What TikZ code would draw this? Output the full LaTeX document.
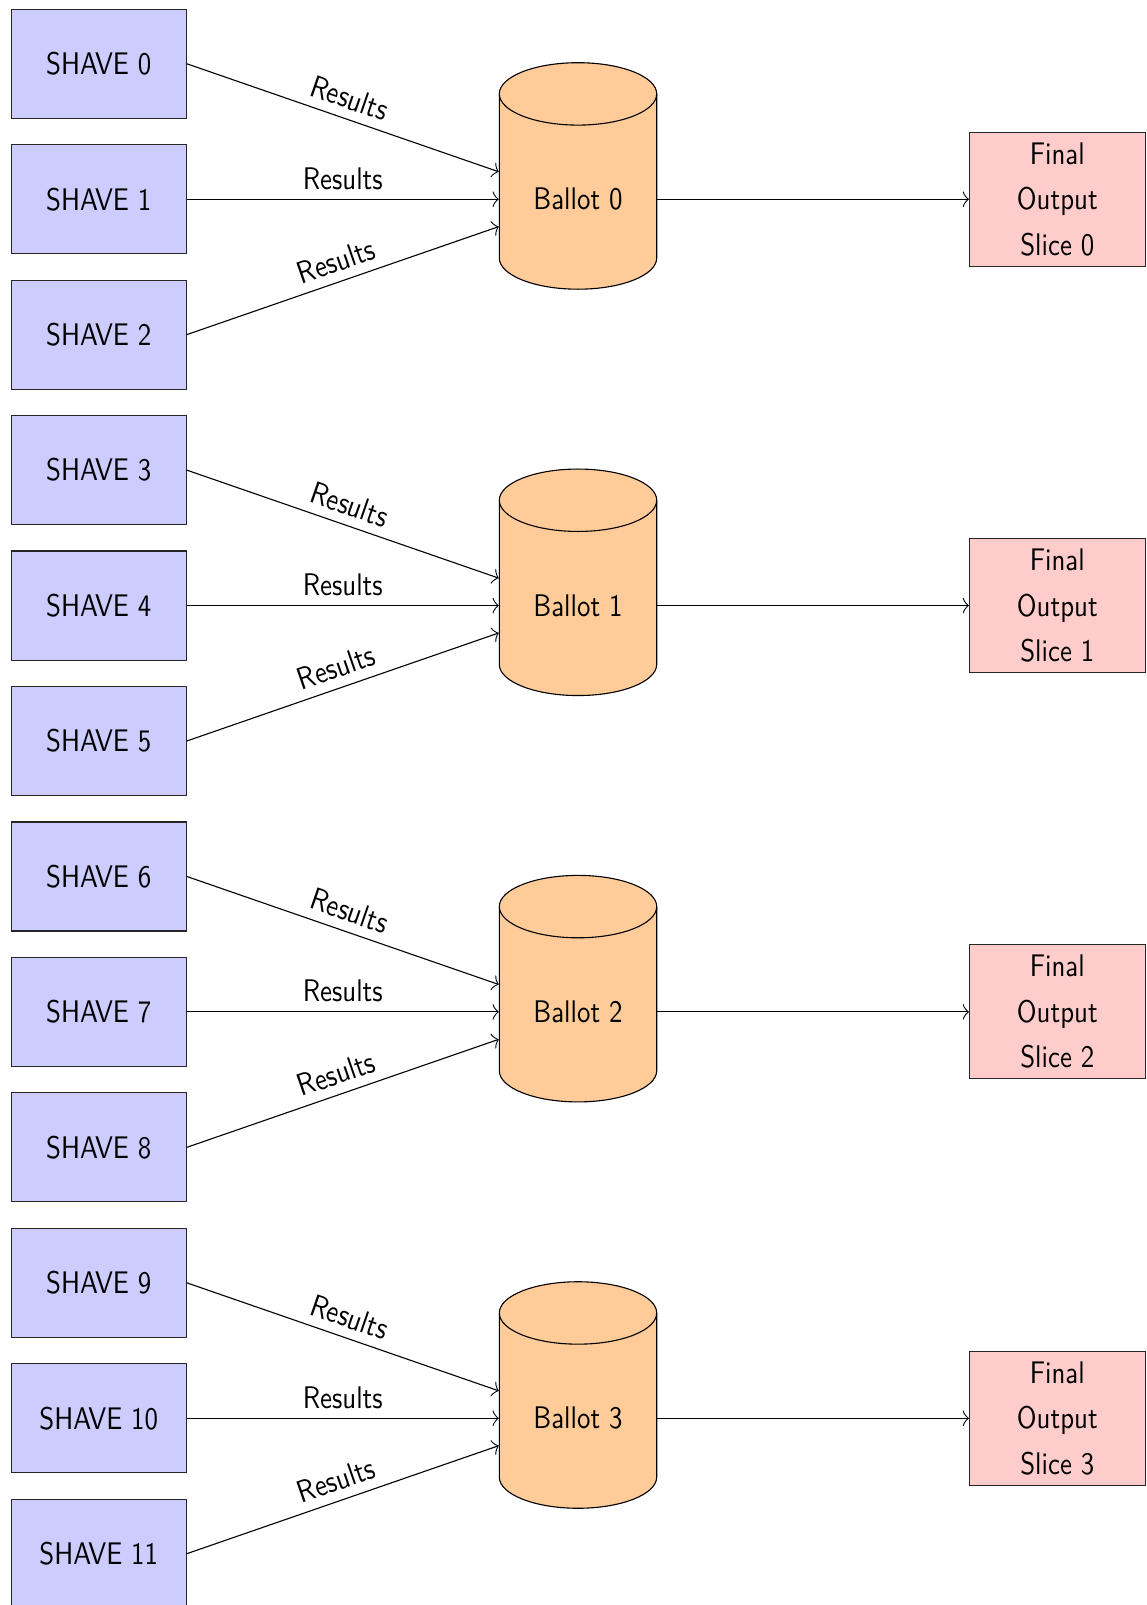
\documentclass[tikz,border=0pt]{standalone}
\usepackage{fontspec}
\setsansfont{lmsans10-regular.otf}[FakeStretch=0.86]
\usetikzlibrary{backgrounds,arrows.meta}
\newdimen\pxu \pxu=0.36pt
\begin{document}
\begin{tikzpicture}[x=0.36pt,y=-0.36pt,
  txt/.style={font=\sffamily\fontsize{11.25}{16.4}\selectfont},
  shave/.style={txt, draw=black!85, fill=blue!20, minimum width=174.9\pxu, minimum height=109\pxu, inner sep=0pt},
  ballot/.style={txt, draw=none, minimum width=157.4\pxu, minimum height=120\pxu, inner sep=0pt},
  final/.style={txt, draw=black!85, fill=red!20, minimum width=175.7\pxu, minimum height=134\pxu, inner sep=0pt, align=center},
  cyl/.style={draw=black, fill=orange!40},
  conn/.style={draw=black, -{Classical TikZ Rightarrow[length=2.2pt,width=5.6pt]}},
  lbl/.style={txt, midway, above, sloped}]
\useasboundingbox (0,0) rectangle (1146,1605);
\foreach \g in {0,...,3} {
  \pgfmathsetmacro\yc{199.2+406.35*\g}
  \node[ballot] (b\g) at (578,\yc) {Ballot \g};
  \node[final] (f\g) at (1057.3,\yc) {Final\\Output\\Slice \g};
  \foreach \i in {0,1,2} {
    \pgfmathtruncatemacro\k{3*\g+\i}
    \pgfmathsetmacro\ys{\yc+135.45*(\i-1)}
    \node[shave] (s\k) at (98.75,\ys) {SHAVE \k};
  }
}
\begin{scope}[on background layer]
\foreach \g in {0,...,3} {
  \path[cyl] ([shift={(-78.7,-105.3)}]b\g.center) -- ([shift={(-78.7,58.8)}]b\g.center)
    arc[start angle=180, end angle=360, x radius=78.7\pxu, y radius=31.2\pxu]
    -- ([shift={(78.7,-105.3)}]b\g.center)
    arc[start angle=0, end angle=180, x radius=78.7\pxu, y radius=31.2\pxu] -- cycle;
  \draw ([shift={(-78.7,-105.3)}]b\g.center)
    arc[start angle=180, end angle=360, x radius=78.7\pxu, y radius=31.2\pxu];
}
\end{scope}
\foreach \g in {0,...,3} {
  \pgfmathtruncatemacro\ka{3*\g}
  \pgfmathtruncatemacro\kb{3*\g+1}
  \pgfmathtruncatemacro\kc{3*\g+2}
  \draw[conn] (s\ka.east) -- node[lbl]{Results} (b\g);
  \draw[conn] (s\kb.east) -- node[lbl]{Results} (b\g);
  \draw[conn] (s\kc.east) -- node[lbl]{Results} (b\g);
  \draw[conn] (b\g) -- (f\g);
}
\end{tikzpicture}
\end{document}
